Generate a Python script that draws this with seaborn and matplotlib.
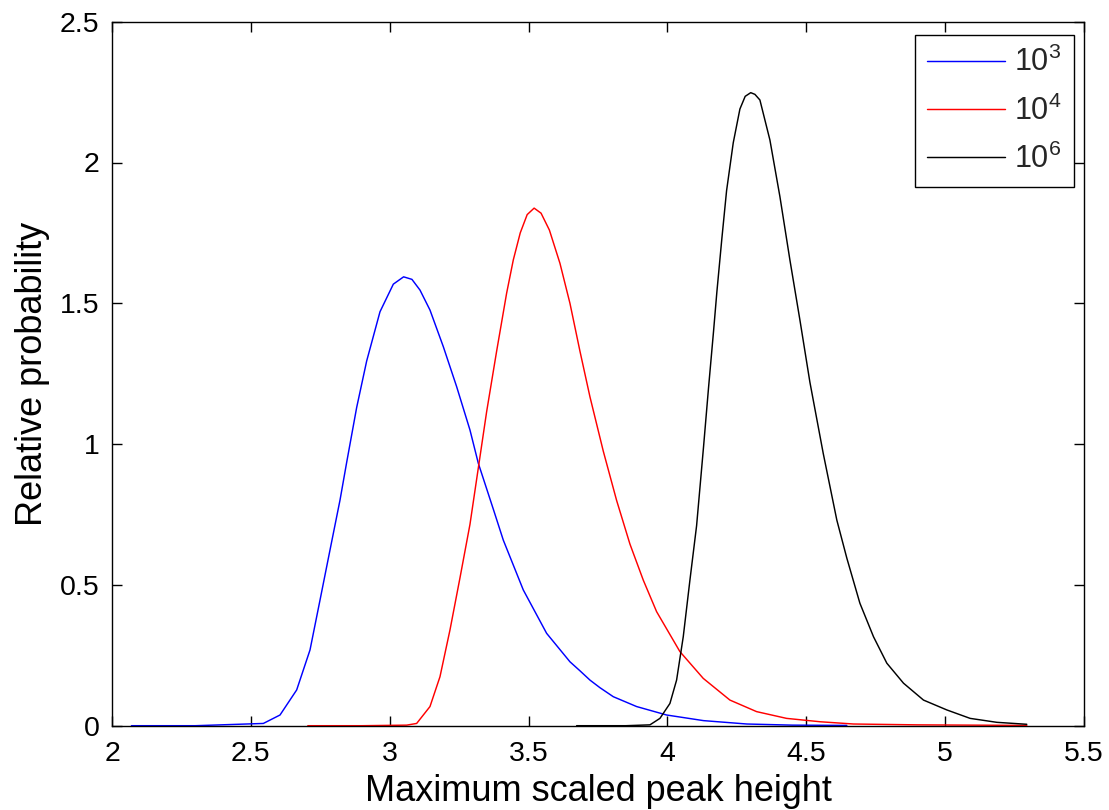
import matplotlib
matplotlib.use("Agg")
import matplotlib.pyplot as plt
import numpy as np
import pandas as pd
import seaborn as sns

# Density curves of the maximum scaled peak height for three sample sizes
x_1e3 = [2.07, 2.30, 2.545, 2.605, 2.665, 2.713, 2.749, 2.785, 2.821, 2.845, 2.881,
         2.917, 2.965, 3.013, 3.05, 3.08, 3.109, 3.145, 3.193, 3.241, 3.289, 3.319,
         3.374, 3.409, 3.481, 3.565, 3.649, 3.685, 3.721, 3.757, 3.805, 3.889, 3.997,
         4.130, 4.286, 4.45, 4.646]
y_1e3 = [0.0, 0.0, 0.008, 0.038, 0.127, 0.269, 0.446, 0.624, 0.801, 0.935, 1.130,
         1.295, 1.470, 1.568, 1.594, 1.585, 1.547, 1.476, 1.346, 1.204, 1.050, 0.932,
         0.766, 0.659, 0.482, 0.328, 0.227, 0.195, 0.162, 0.135, 0.103, 0.068, 0.038,
         0.018, 0.006, 0.002, 0.001]

x_1e4 = [2.705, 2.90, 3.061, 3.097, 3.145, 3.181, 3.217, 3.253, 3.289, 3.319, 3.349,
         3.385, 3.421, 3.445, 3.47, 3.495, 3.52, 3.545, 3.575, 3.613, 3.649, 3.685,
         3.721, 3.769, 3.817, 3.865, 3.913, 3.961, 4.045, 4.129, 4.225, 4.321, 4.429,
         4.55, 4.67, 4.90, 5.294]
y_1e4 = [0.0, 0.0, 0.002, 0.008, 0.068, 0.174, 0.340, 0.525, 0.715, 0.915, 1.115,
         1.330, 1.536, 1.654, 1.75, 1.815, 1.838, 1.82, 1.76, 1.642, 1.500, 1.330,
         1.168, 0.975, 0.800, 0.645, 0.517, 0.405, 0.263, 0.168, 0.091, 0.050, 0.026,
         0.014, 0.006, 0.003, 0.001]

x_1e6 = [3.673, 3.85, 3.937, 3.973, 4.009, 4.033, 4.057, 4.081, 4.105, 4.130, 4.148,
         4.166, 4.178, 4.196, 4.213, 4.237, 4.261, 4.28, 4.30, 4.315, 4.333, 4.369,
         4.405, 4.441, 4.477, 4.513, 4.561, 4.610, 4.646, 4.693, 4.742, 4.790, 4.850,
         4.922, 5.006, 5.090, 5.186, 5.294]
y_1e6 = [0.0, 0.0, 0.003, 0.026, 0.079, 0.162, 0.316, 0.517, 0.71, 0.99, 1.20,
         1.40, 1.54, 1.73, 1.90, 2.07, 2.19, 2.235, 2.248, 2.242, 2.222, 2.080,
         1.879, 1.654, 1.441, 1.220, 0.967, 0.730, 0.595, 0.435, 0.316, 0.222, 0.151,
         0.091, 0.056, 0.026, 0.012, 0.005]

series_labels = [r"$\mathregular{10^3}$", r"$\mathregular{10^4}$", r"$\mathregular{10^6}$"]
series_colors = ["#0000ff", "#ff0000", "#000000"]

x_ticks = [2, 2.5, 3, 3.5, 4, 4.5, 5, 5.5]
x_tick_labels = ["2", "2.5", "3", "3.5", "4", "4.5", "5", "5.5"]
y_ticks = [0, 0.5, 1, 1.5, 2, 2.5]
y_tick_labels = ["0", "0.5", "1", "1.5", "2", "2.5"]

frames = []
for lab, xs, ys in zip(series_labels, [x_1e3, x_1e4, x_1e6], [y_1e3, y_1e4, y_1e6]):
    frames.append(pd.DataFrame({"x": xs, "y": ys, "series": lab}))
df = pd.concat(frames, ignore_index=True)

sns.set_theme(style="white")
plt.rcParams["font.family"] = ["Liberation Sans", "DejaVu Sans"]
plt.rcParams["mathtext.fontset"] = "custom"
plt.rcParams["mathtext.rm"] = "Liberation Sans"
plt.rcParams["mathtext.it"] = "Liberation Sans:italic"
plt.rcParams["mathtext.bf"] = "Liberation Sans:bold"

W, H = 1109, 810
fig = plt.figure(figsize=(W / 100, H / 100), dpi=100)
fig.patch.set_facecolor("white")
ax = fig.add_axes([112 / W, 1 - 725.7 / H, 972 / W, 704 / H])

sns.lineplot(data=df, x="x", y="y", hue="series", palette=series_colors,
             hue_order=series_labels, linewidth=1.05, estimator=None, sort=False,
             legend=False, ax=ax)

ax.set_xlim(2, 5.5)
ax.set_ylim(0, 2.5)
ax.set_xticks(x_ticks)
ax.set_xticklabels(x_tick_labels)
ax.set_yticks(y_ticks)
ax.set_yticklabels(y_tick_labels)

for sp in ax.spines.values():
    sp.set_visible(True)
    sp.set_color("black")
    sp.set_linewidth(1.0)

ax.tick_params(axis="both", which="major", direction="in", length=7, width=1.0,
               color="black", labelsize=20.5, labelcolor="black",
               top=True, right=True, bottom=True, left=True)
ax.tick_params(axis="x", pad=11)
ax.tick_params(axis="y", pad=9)

ax.set_xlabel("Maximum scaled peak height", fontsize=26, color="black")
ax.set_ylabel("Relative probability", fontsize=26, color="black")
ax.xaxis.set_label_coords(0.5, -0.068)
ax.yaxis.set_label_coords(-0.064, 0.5)

leg = ax.legend(handles=ax.lines[:3], labels=series_labels, loc="upper right",
                bbox_to_anchor=(1 - 10 / 972, 1 - 13 / 704), borderaxespad=0,
                fontsize=22, frameon=True, fancybox=False, shadow=False,
                handlelength=2.55, handletextpad=0.3, labelspacing=0.56,
                borderpad=0.4)
leg.get_frame().set_edgecolor("black")
leg.get_frame().set_linewidth(1.0)
leg.get_frame().set_facecolor("white")
leg.get_frame().set_alpha(1.0)

ax.set_facecolor("white")
ax.grid(False)
fig.savefig("out.png", dpi=100, facecolor="white")
